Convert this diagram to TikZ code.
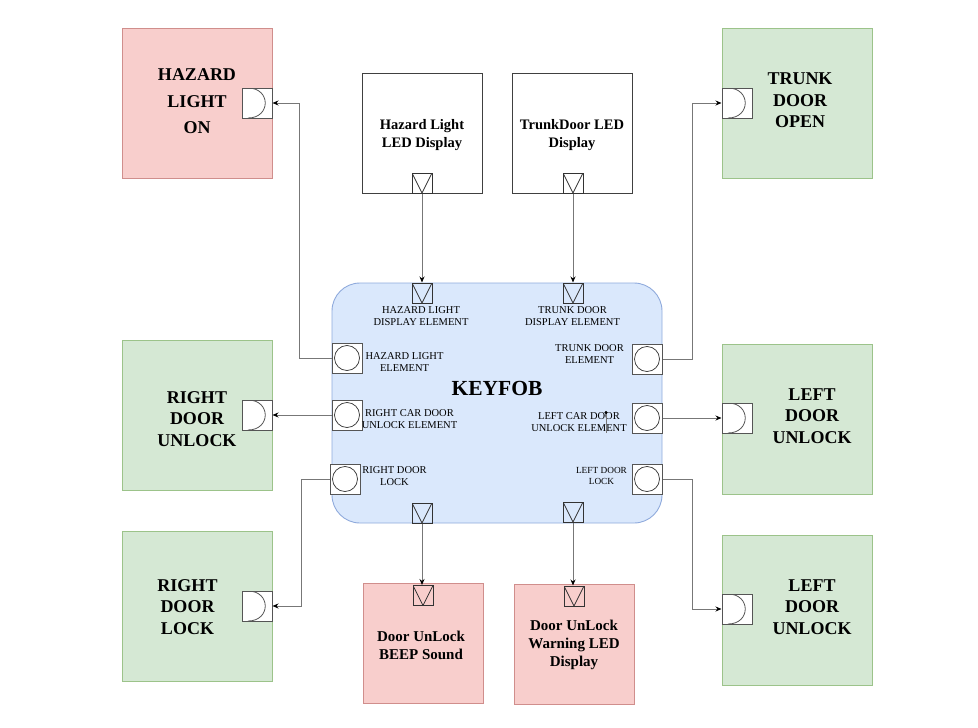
\documentclass[tikz,border=0pt]{standalone}
\usepackage{fontspec}
\setmainfont{Liberation Serif}
\usetikzlibrary{arrows.meta}
\definecolor{pinkf}{HTML}{F8CECC}
\definecolor{pinkd}{HTML}{D08E8C}
\definecolor{greenf}{HTML}{D5E8D4}
\definecolor{greend}{HTML}{9CC38A}
\definecolor{bluef}{HTML}{DAE8FC}
\definecolor{blued}{HTML}{8FAADC}
\definecolor{portd}{HTML}{555555}
\definecolor{linec}{HTML}{777777}
\begin{document}
\begin{tikzpicture}[x=1pt,y=-1pt,
  bigbox/.style={draw=#1d, fill=#1f, line width=0.9pt, minimum width=150pt, minimum height=150pt, inner sep=0pt},
  ledbox/.style={draw=black!75, fill=white, line width=0.9pt, minimum width=120pt, minimum height=120pt, inner sep=0pt},
  outbox/.style={draw=pinkd, fill=pinkf, line width=0.9pt, minimum width=120pt, minimum height=120pt, inner sep=0pt},
  bigtxt/.style={font=\bfseries\fontsize{18}{21.5}\selectfont, align=center, inner sep=0pt},
  ledtxt/.style={font=\bfseries\fontsize{14.5}{18}\selectfont, align=center, inner sep=0pt},
  smalltxt/.style={font=\fontsize{10.5}{12}\selectfont, align=center, inner sep=0pt},
  portD/.style={draw=portd, fill=white, line width=1pt, minimum size=30pt, inner sep=0pt,
    path picture={\draw[portd, line width=0.8pt]
      ([xshift=6pt]path picture bounding box.north west) .. controls +(23pt,0pt) and +(23pt,0pt) .. ([xshift=6pt]path picture bounding box.south west);}},
  portV/.style={draw=black!80, fill=white, line width=1pt, minimum size=20pt, inner sep=0pt,
    path picture={\draw[black!80, line width=0.7pt] (path picture bounding box.north west) -- (path picture bounding box.south) -- (path picture bounding box.north east);}},
  portV2/.style={portV, fill=none},
  portO/.style={draw=portd, fill=white, line width=1pt, minimum size=30pt, inner sep=0pt,
    path picture={\draw[black!80, line width=0.7pt] (path picture bounding box.center) circle[radius=12.5pt];}},
  conn/.style={draw=linec, line width=0.9pt, -{Stealth[length=6pt,width=5pt,black]}}
]
\useasboundingbox (0,0) rectangle (978,728);

% outer boxes
\node[bigbox=pink] (hazbox) at (197,103) {};
\node[bigtxt, font=\bfseries\fontsize{18}{26.5}\selectfont] (haztxt) at (197,101.5) {HAZARD\\LIGHT\\ON};
\node[portD] (hazp) at (257,103) {};

\node[bigbox=green] (trbox) at (797,103) {};
\node[bigtxt] (trtxt) at (800,100.5) {TRUNK\\DOOR\\OPEN};
\node[portD] (trp) at (737,103) {};

\node[bigbox=green] (rubox) at (197,415) {};
\node[bigtxt] (rutxt) at (197,419) {RIGHT\\DOOR\\UNLOCK};
\node[portD] (rup) at (257,415) {};

\node[bigbox=green] (lubox) at (797,419) {};
\node[bigtxt] (lutxt) at (812,416) {LEFT\\DOOR\\UNLOCK};
\node[portD] (lup) at (737,418) {};

\node[bigbox=green] (rlbox) at (197,606) {};
\node[bigtxt] (rltxt) at (187.5,607) {RIGHT\\DOOR\\LOCK};
\node[portD] (rlp) at (257,606) {};

\node[bigbox=green] (lu2box) at (797,610) {};
\node[bigtxt] (lu2txt) at (812,607) {LEFT\\DOOR\\UNLOCK};
\node[portD] (lu2p) at (737,609) {};

% LED display boxes
\node[ledbox] (hldbox) at (422,133) {};
\node[ledtxt] (hldtxt) at (422,135) {Hazard Light\\LED Display};
\node[portV] (hldp) at (422,183) {};

\node[ledbox] (tldbox) at (572,133) {};
\node[ledtxt] (tldtxt) at (572,135) {TrunkDoor LED\\Display};
\node[portV] (tldp) at (573,183) {};

% output boxes
\node[outbox] (beepbox) at (423,643) {};
\node[ledtxt, font=\bfseries\fontsize{15}{18}\selectfont] (beeptxt) at (421,645) {Door UnLock\\BEEP Sound};
\node[portV2] (beepp) at (423,595.5) {};

\node[outbox] (warnbox) at (574,644) {};
\node[ledtxt, font=\bfseries\fontsize{15}{18}\selectfont] (warntxt) at (574,645) {Door UnLock\\Warning LED\\Display};
\node[portV2] (warnp) at (574,596) {};

% keyfob
\node[draw=blued, fill=bluef, line width=0.9pt, rounded corners=28pt, minimum width=330pt, minimum height=240pt, inner sep=0pt] (kf) at (497,403) {};
\node[font=\bfseries\fontsize{21.5}{24}\selectfont, inner sep=0pt] (kftxt) at (497,388) {KEYFOB};

\node[portV2] (kfhld) at (422,293) {};
\node[portV2] (kftld) at (573,293) {};
\node[portV2] (kfb1) at (422,513) {};
\node[portV2] (kfb2) at (573,512) {};
\node[portO] (kfhle) at (347,358) {};
\node[portO] (kfrcu) at (347,415) {};
\node[portO] (kfrdl) at (345,479) {};
\node[portO] (kftde) at (647,359) {};
\node[portO] (kflcu) at (647,418) {};
\node[portO] (kfldl) at (647,479) {};

\node[smalltxt] (t1) at (421,316) {HAZARD LIGHT\\DISPLAY ELEMENT};
\node[smalltxt] (t2) at (572.5,316) {TRUNK DOOR\\DISPLAY ELEMENT};
\node[smalltxt] (t3) at (404.5,362.5) {HAZARD LIGHT\\ELEMENT};
\node[smalltxt] (t4) at (589.5,354.5) {TRUNK DOOR\\ELEMENT};
\node[smalltxt] (t5) at (409.5,419) {RIGHT CAR DOOR\\UNLOCK ELEMENT};
\node[smalltxt] (t6) at (579,422.5) {LEFT CAR DOOR\\UNLOCK ELEMENT};
\node[smalltxt] (t7) at (394.5,476.5) {RIGHT DOOR\\LOCK};
\node[smalltxt, font=\fontsize{9.3}{11}\selectfont] (t8) at (601.5,476) {LEFT DOOR\\LOCK};

% connectors
\draw[conn] (kfhle.west) -- ++(-32,0) |- (hazp.east);
\draw[conn] (kfrcu.west) -- (rup.east);
\draw[conn] (kfrdl.west) -- ++(-28,0) |- (rlp.east);
\draw[conn] (kftde.east) -- ++(30,0) |- (trp.west);
\draw[conn] (kflcu.east) -- (lup.west);
\draw[conn] (kfldl.east) -- ++(30,0) |- (lu2p.west);
\draw[conn] (hldp.south) -- (kfhld.north);
\draw[conn] (tldp.south) -- (kftld.north);
\draw[conn] (kfb1.south) -- (kfb1.south |- beepp.north);
\draw[conn] (kfb2.south) -- (kfb2.south |- warnp.north);
\coordinate (s1) at (606,433);
\coordinate (s2) at (606,411);
\draw[conn, -{Circle[length=3pt,black]}] (s1) -- (s2);
\end{tikzpicture}
\end{document}
